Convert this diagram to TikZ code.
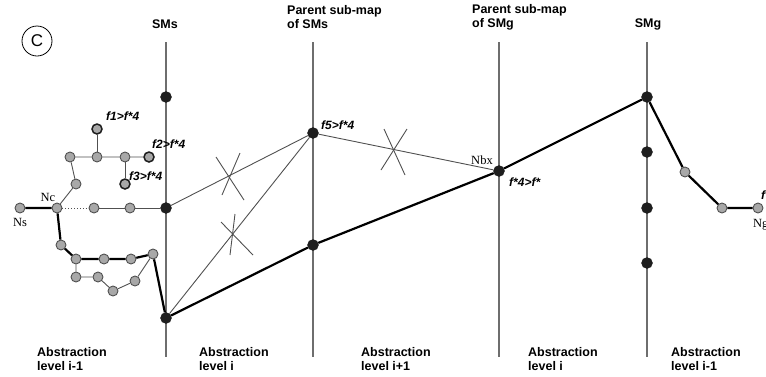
\documentclass[tikz,border=0pt]{standalone}
\usepackage{fontspec}
\setmainfont{Liberation Serif}
\setsansfont{Liberation Sans}
\usepackage{tikz}
\usetikzlibrary{positioning,calc}
\definecolor{figgray}{HTML}{A8A8A8}
\definecolor{figdark}{HTML}{1E1E1E}
\definecolor{figline}{HTML}{6E6E6E}
\definecolor{figthin}{HTML}{505050}

\begin{document}
\begin{tikzpicture}[x=1pt, y=-1pt,
  mapline/.style={figline, line width=1.5pt},
  gnode/.style={circle, draw=figthin, fill=figgray, line width=0.9pt, minimum size=10pt, inner sep=0pt},
  onode/.style={gnode, draw=figdark, line width=1.5pt},
  dnode/.style={circle, draw=figdark, fill=figdark, minimum size=11pt, inner sep=0pt},
  link/.style={figthin, line width=0.9pt},
  route/.style={black, line width=2.2pt, line join=round},
  cut/.style={figthin, line width=0.9pt},
  hdr/.style={font=\sffamily\bfseries\fontsize{12.5}{14}\selectfont, align=left, inner sep=0pt},
  lvl/.style={hdr, anchor=west},
  cost/.style={font=\sffamily\bfseries\itshape\fontsize{12}{13}\selectfont, anchor=west, inner sep=0pt},
  nm/.style={font=\fontsize{12.5}{14}\selectfont, inner sep=0pt}]
\useasboundingbox (0,0) rectangle (766,376);

% sub-map lines
\foreach \x/\n in {166/sms,313/pms,499/pmg,647/smg}{
  \coordinate (\n top) at (\x,42);
  \coordinate (\n bot) at (\x,357);
  \draw[mapline] (\n top) -- (\n bot);
}

\node[circle, draw, line width=0.8pt, minimum size=30pt, inner sep=0pt,
      font=\sffamily\fontsize{17}{17}\selectfont] (tag) at (37,41) {C};

% headers
\node[hdr] (hsms) at (165,24) {SMs};
\node[hdr, anchor=west] (hpms) at (287,17) {Parent sub-map\\of SMs};
\node[hdr, anchor=west] (hpmg) at (472,17) {Parent sub-map\\of SMg};
\node[hdr] (hsmg) at (648,24) {SMg};

% abstraction levels
\node[lvl] (lv1) at (37,359)  {Abstraction\\level i-1};
\node[lvl] (lv2) at (199,359) {Abstraction\\level i};
\node[lvl] (lv3) at (361,359) {Abstraction\\level i+1};
\node[lvl] (lv4) at (528,359) {Abstraction\\level i};
\node[lvl] (lv5) at (671,359) {Abstraction\\level i-1};

% nodes on the sub-map lines
\node[dnode] (s1) at (166,97) {};
\node[dnode] (s2) at (166,208) {};
\node[dnode] (s3) at (166,318) {};
\node[dnode] (p1) at (313,133) {};
\node[dnode] (p2) at (313,245) {};
\node[dnode] (g1) at (499,171) {};
\foreach \y/\n in {97/m1,152/m2,208/m3,263/m4}
  \node[dnode] (\n) at (647,\y) {};

% low level nodes, start side
\node[gnode] (ns) at (20,208) {};
\node[gnode] (nc) at (57,208) {};
\node[gnode] (a1) at (94,208) {};
\node[gnode] (a2) at (130,208) {};
\node[gnode] (u1) at (76,184) {};
\node[gnode] (u2) at (70,157) {};
\node[gnode] (u3) at (97,157) {};
\node[gnode] (u4) at (125,157) {};
\node[onode] (u5) at (149,157) {};
\node[onode] (u6) at (97,129) {};
\node[onode] (u7) at (125,184) {};
\node[gnode] (d1) at (61,245) {};
\node[gnode] (d2) at (76,259) {};
\node[gnode] (d3) at (104,259) {};
\node[gnode] (d4) at (131,259) {};
\node[gnode] (d5) at (153,254) {};
\node[gnode] (e1) at (76,277) {};
\node[gnode] (e2) at (98,277) {};
\node[gnode] (e3) at (113,291) {};
\node[gnode] (e4) at (135,281) {};

% low level nodes, goal side
\node[gnode] (r1) at (685,172) {};
\node[gnode] (r2) at (722,208) {};
\node[gnode] (ng) at (758,208) {};

% labels
\node[nm] (lnc) at (48,197) {Nc};
\node[nm] (lns) at (20,222) {Ns};
\node[nm, anchor=west] (lng) at (753,225) {Ng};
\node[nm] (lnbx) at (482,160) {Nbx};
\node[cost] (c1) at (106,116) {f1>f*4};
\node[cost] (c2) at (152,144) {f2>f*4};
\node[cost] (c3) at (129,176) {f3>f*4};
\node[cost] (c5) at (321,125) {f5>f*4};
\node[cost] (c4) at (509,182) {f*4>f*};
\node[cost] (cg) at (761,195) {f*};

% explored edges
\draw[link] (nc) -- (u1) -- (u2) -- (u3) -- (u4) -- (u5);
\draw[link] (u3) -- (u6);
\draw[link] (u4) -- (u7);
\draw[link, dotted] (nc) -- (a1);
\draw[link] (a1) -- (a2) -- (s2);
\draw[link] (d2) -- (e1) -- (e2) -- (e3) -- (e4) -- (d5);

% rejected links
\draw[link] (s2) -- (p1);
\draw[link] (s3) -- (p1);
\draw[link] (p1) -- (g1);
\coordinate (x1) at (229,176);
\coordinate (x2) at (233,235);
\coordinate (x3) at (392,149);
\draw[cut] ($(x1)+(-13,-19)$) -- ($(x1)+(15,24)$);
\draw[cut] ($(x1)+(11,-23)$) -- ($(x1)+(-7,19)$);
\draw[cut] ($(x2)+(2,-21)$) -- ($(x2)+(-3,20)$);
\draw[cut] ($(x2)+(-12,-13)$) -- ($(x2)+(20,20)$);
\draw[cut] ($(x3)+(-8,-20)$) -- ($(x3)+(13,26)$);
\draw[cut] ($(x3)+(15,-20)$) -- ($(x3)+(-11,21)$);

% final path
\draw[route] (ns) -- (nc) -- (d1) -- (d2) -- (d3) -- (d4) -- (d5) -- (s3)
  -- (p2) -- (g1) -- (m1) -- (r1) -- (r2) -- (ng);
\end{tikzpicture}
\end{document}
